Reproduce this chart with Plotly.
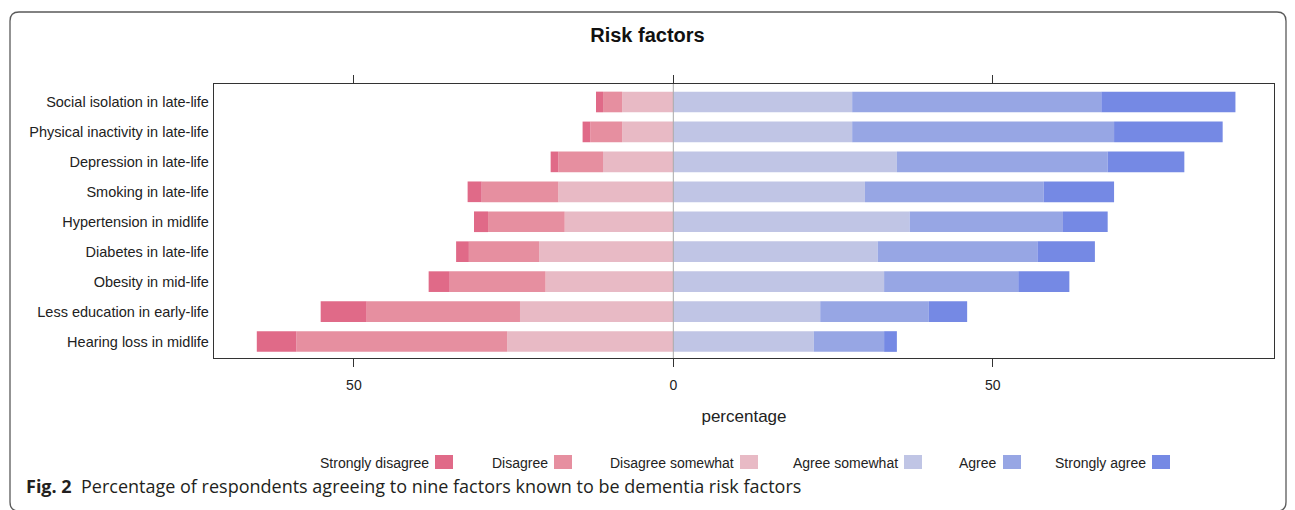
import plotly.graph_objects as go

# ---------------- data ----------------
categories = [
    "Hearing loss in midlife",
    "Less education in early-life",
    "Obesity in mid-life",
    "Diabetes in late-life",
    "Hypertension in midlife",
    "Smoking in late-life",
    "Depression in late-life",
    "Physical inactivity in late-life",
    "Social isolation in late-life",
]
strongly_disagree = [6.2, 7.2, 3.3, 2.0, 2.2, 2.2, 1.2, 1.2, 1.1]
disagree = [33, 24, 15, 11, 12, 12, 7, 5, 3]
disagree_somewhat = [26, 24, 20, 21, 17, 18, 11, 8, 8]
agree_somewhat = [22, 23, 33, 32, 37, 30, 35, 28, 28]
agree = [11, 17, 21, 25, 24, 28, 33, 41, 39]
strongly_agree = [2, 6, 8, 9, 7, 11, 12, 17, 21]

tick_vals = [-50, 0, 50]
tick_text = ["50", "0", "50"]

legend_labels = ["Strongly disagree", "Disagree", "Disagree somewhat",
                 "Agree somewhat", "Agree", "Strongly agree"]
colors = ["#E06A88", "#E68FA0", "#E8BAC5", "#C0C5E5", "#97A6E4", "#7589E4"]

title_text = "Risk factors"
x_title = "percentage"
caption_bold = "Fig. 2"
caption_text = "Percentage of respondents agreeing to nine factors known to be dementia risk factors"

# ---------------- layout geometry (screen pixels) ----------------
OFF = 8                      # page body margin
SW, SH = 1295, 510           # window size
W, H = SW - OFF, SH - OFF    # figure size
L, R, T, B = 214, 1274, 84, 358  # plot area edges on screen

def px(xp):
    return (xp - L) / (R - L)

def py(yp):
    return (B - yp) / (B - T)

FONT = "Liberation Sans, Arial, sans-serif"

fig = go.Figure()

neg_series = [
    (legend_labels[2], disagree_somewhat, colors[2]),
    (legend_labels[1], disagree, colors[1]),
    (legend_labels[0], strongly_disagree, colors[0]),
]
pos_series = [
    (legend_labels[3], agree_somewhat, colors[3]),
    (legend_labels[4], agree, colors[4]),
    (legend_labels[5], strongly_agree, colors[5]),
]
for name, vals, col in neg_series:
    fig.add_trace(go.Bar(
        y=categories, x=[-v for v in vals], orientation="h", name=name,
        marker=dict(color=col, line=dict(width=0)), width=0.69, showlegend=False,
    ))
for name, vals, col in pos_series:
    fig.add_trace(go.Bar(
        y=categories, x=vals, orientation="h", name=name,
        marker=dict(color=col, line=dict(width=0)), width=0.69, showlegend=False,
    ))

shapes = []
annotations = []

# zero line above bars
shapes.append(dict(type="line", xref="x", yref="paper", x0=0, x1=0, y0=0, y1=1,
                   line=dict(color="#A8A8A8", width=1), layer="above"))

# custom legend (text then swatch)
swatch_left = [435, 554, 740, 904, 1003, 1152]
for lab, col, sl in zip(legend_labels, colors, swatch_left):
    shapes.append(dict(type="rect", xref="paper", yref="paper",
                       x0=px(sl), x1=px(sl + 18), y0=py(469), y1=py(455),
                       fillcolor=col, line=dict(width=0)))
    annotations.append(dict(text=lab, xref="paper", yref="paper",
                             x=px(sl - 4), y=py(463), xanchor="right", yanchor="middle",
                             showarrow=False, font=dict(family=FONT, size=14, color="#222222")))

# caption
annotations.append(dict(
    text="<b>" + caption_bold + "</b>&nbsp;&nbsp;" + caption_text,
    xref="paper", yref="paper", x=px(24), y=py(486), xanchor="left", yanchor="middle",
    showarrow=False, font=dict(family="Open Sans, Noto Sans, sans-serif", size=18, color="#231F20")))

# outer rounded frame
fx0, fx1, fy0, fy1, r = 10, 1286, 12, 511, 9
path = (
    f"M {px(fx0)},{py(fy0 + r)} "
    f"Q {px(fx0)},{py(fy0)} {px(fx0 + r)},{py(fy0)} "
    f"L {px(fx1 - r)},{py(fy0)} "
    f"Q {px(fx1)},{py(fy0)} {px(fx1)},{py(fy0 + r)} "
    f"L {px(fx1)},{py(fy1 - r)} "
    f"Q {px(fx1)},{py(fy1)} {px(fx1 - r)},{py(fy1)} "
    f"L {px(fx0 + r)},{py(fy1)} "
    f"Q {px(fx0)},{py(fy1)} {px(fx0)},{py(fy1 - r)} Z"
)
shapes.append(dict(type="path", xref="paper", yref="paper", path=path,
                   line=dict(color="#5A5A5A", width=1.3), layer="below"))

fig.update_layout(
    width=W, height=H,
    margin=dict(l=L - OFF, r=SW - R, t=T - OFF, b=SH - B, pad=0),
    paper_bgcolor="white", plot_bgcolor="white",
    barmode="relative", bargap=0.31,
    title=dict(text="<b>" + title_text + "</b>",
               x=(SW / 2 - L) / (R - L), xanchor="center", xref="paper",
               y=1 - (35 - OFF) / H, yanchor="middle", yref="container",
               font=dict(family=FONT, size=20, color="#111111")),
    shapes=shapes, annotations=annotations,
    font=dict(family=FONT, size=14, color="#222222"),
)

fig.update_xaxes(
    range=[(L - 673.3) / 6.388, (R - 673.3) / 6.388],
    tickvals=tick_vals, ticktext=tick_text,
    ticks="outside", ticklen=8, tickwidth=1, tickcolor="#333333",
    showline=True, linecolor="#333333", linewidth=1.3, mirror="ticks",
    showgrid=False, zeroline=False,
    tickfont=dict(family=FONT, size=14, color="#222222"),
    ticklabelstandoff=6,
    title=dict(text=x_title, font=dict(family=FONT, size=17, color="#222222"), standoff=18),
    fixedrange=True,
)
fig.update_yaxes(
    categoryorder="array", categoryarray=categories,
    range=[-0.55, 8.6],
    showline=True, linecolor="#333333", linewidth=1.3, mirror=True,
    ticks="", showgrid=False, zeroline=False,
    tickfont=dict(family=FONT, size=14.5, color="#222222"),
    ticklabelstandoff=1,
    fixedrange=True,
)

fig.write_html("out.html")
